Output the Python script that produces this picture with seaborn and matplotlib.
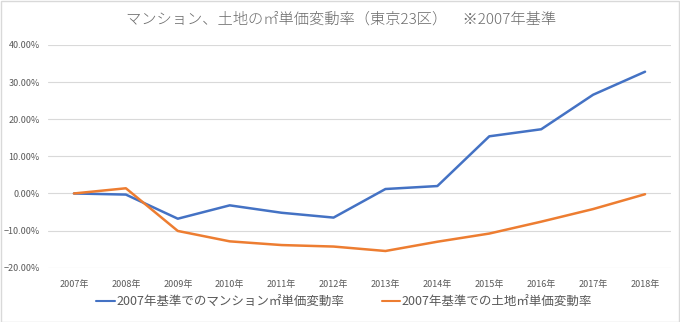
import matplotlib
matplotlib.use("Agg")
import matplotlib.pyplot as plt
import matplotlib.patches as mpatches
from matplotlib.ticker import PercentFormatter
import seaborn as sns
import pandas as pd

years = ["2007年", "2008年", "2009年", "2010年", "2011年", "2012年",
         "2013年", "2014年", "2015年", "2016年", "2017年", "2018年"]
mansion_rate = [0.0, -0.3, -6.8, -3.2, -5.2, -6.5, 1.2, 2.0, 15.4, 17.3, 26.6, 32.8]
land_rate = [0.0, 1.4, -10.1, -12.9, -13.9, -14.3, -15.5, -13.0, -10.8, -7.6, -4.2, -0.2]
series_names = ["2007年基準でのマンション㎡単価変動率", "2007年基準での土地㎡単価変動率"]
title = "マンション、土地の㎡単価変動率（東京23区）　※2007年基準"

df = pd.concat([
    pd.DataFrame({"year": years, "rate": mansion_rate, "series": series_names[0]}),
    pd.DataFrame({"year": years, "rate": land_rate, "series": series_names[1]}),
])
df["x"] = df["year"].map({y: i for i, y in enumerate(years)})

sns.set_theme(style="white")
plt.rcParams["font.family"] = ["Noto Sans CJK JP", "DejaVu Sans"]

fig = plt.figure(figsize=(6.8, 3.22), dpi=100)
ax = fig.add_axes([48 / 680, 1 - 267.7 / 322, (671 - 48) / 680, (267.7 - 45) / 322])

palette = {series_names[0]: "#4472C4", series_names[1]: "#ED7D31"}
sns.lineplot(data=df, x="x", y="rate", hue="series", palette=palette,
             linewidth=1.8, ax=ax, legend=False, sort=False)

ax.set_xlim(-0.5, len(years) - 0.5)
ax.set_ylim(-20, 40)
ax.set_yticks(range(-20, 41, 10))
ax.yaxis.set_major_formatter(PercentFormatter(decimals=2))
ax.set_xticks(range(len(years)))
ax.set_xticklabels(years)
ax.set_xlabel("")
ax.set_ylabel("")
ax.grid(axis="y", color="#d9d9d9", linewidth=0.8)
ax.set_axisbelow(True)
for s in ax.spines.values():
    s.set_visible(False)
ax.tick_params(axis="both", length=0, labelsize=6.5, colors="#595959")
ax.tick_params(axis="x", pad=9)
ax.tick_params(axis="y", pad=6)

fig.text(341 / 680, 1 - 19 / 322, title, ha="center", va="center",
         fontsize=11, color="#6b6b6b", fontweight="light")

handles = [plt.Line2D([], [], color=palette[n], linewidth=1.5) for n in series_names]
fig.legend(handles, series_names, loc="center", bbox_to_anchor=(344 / 680, 1 - 302 / 322),
           ncol=2, frameon=False, fontsize=9, handlelength=1.5, handletextpad=0.1,
           columnspacing=3.0, labelcolor="#595959")

fig.patches.append(mpatches.Rectangle((0.5 / 680, 0.5 / 322), 678.5 / 680, 320.5 / 322,
                                      transform=fig.transFigure, fill=False,
                                      edgecolor="#d9d9d9", linewidth=1))

fig.savefig("out.png", dpi=100)
